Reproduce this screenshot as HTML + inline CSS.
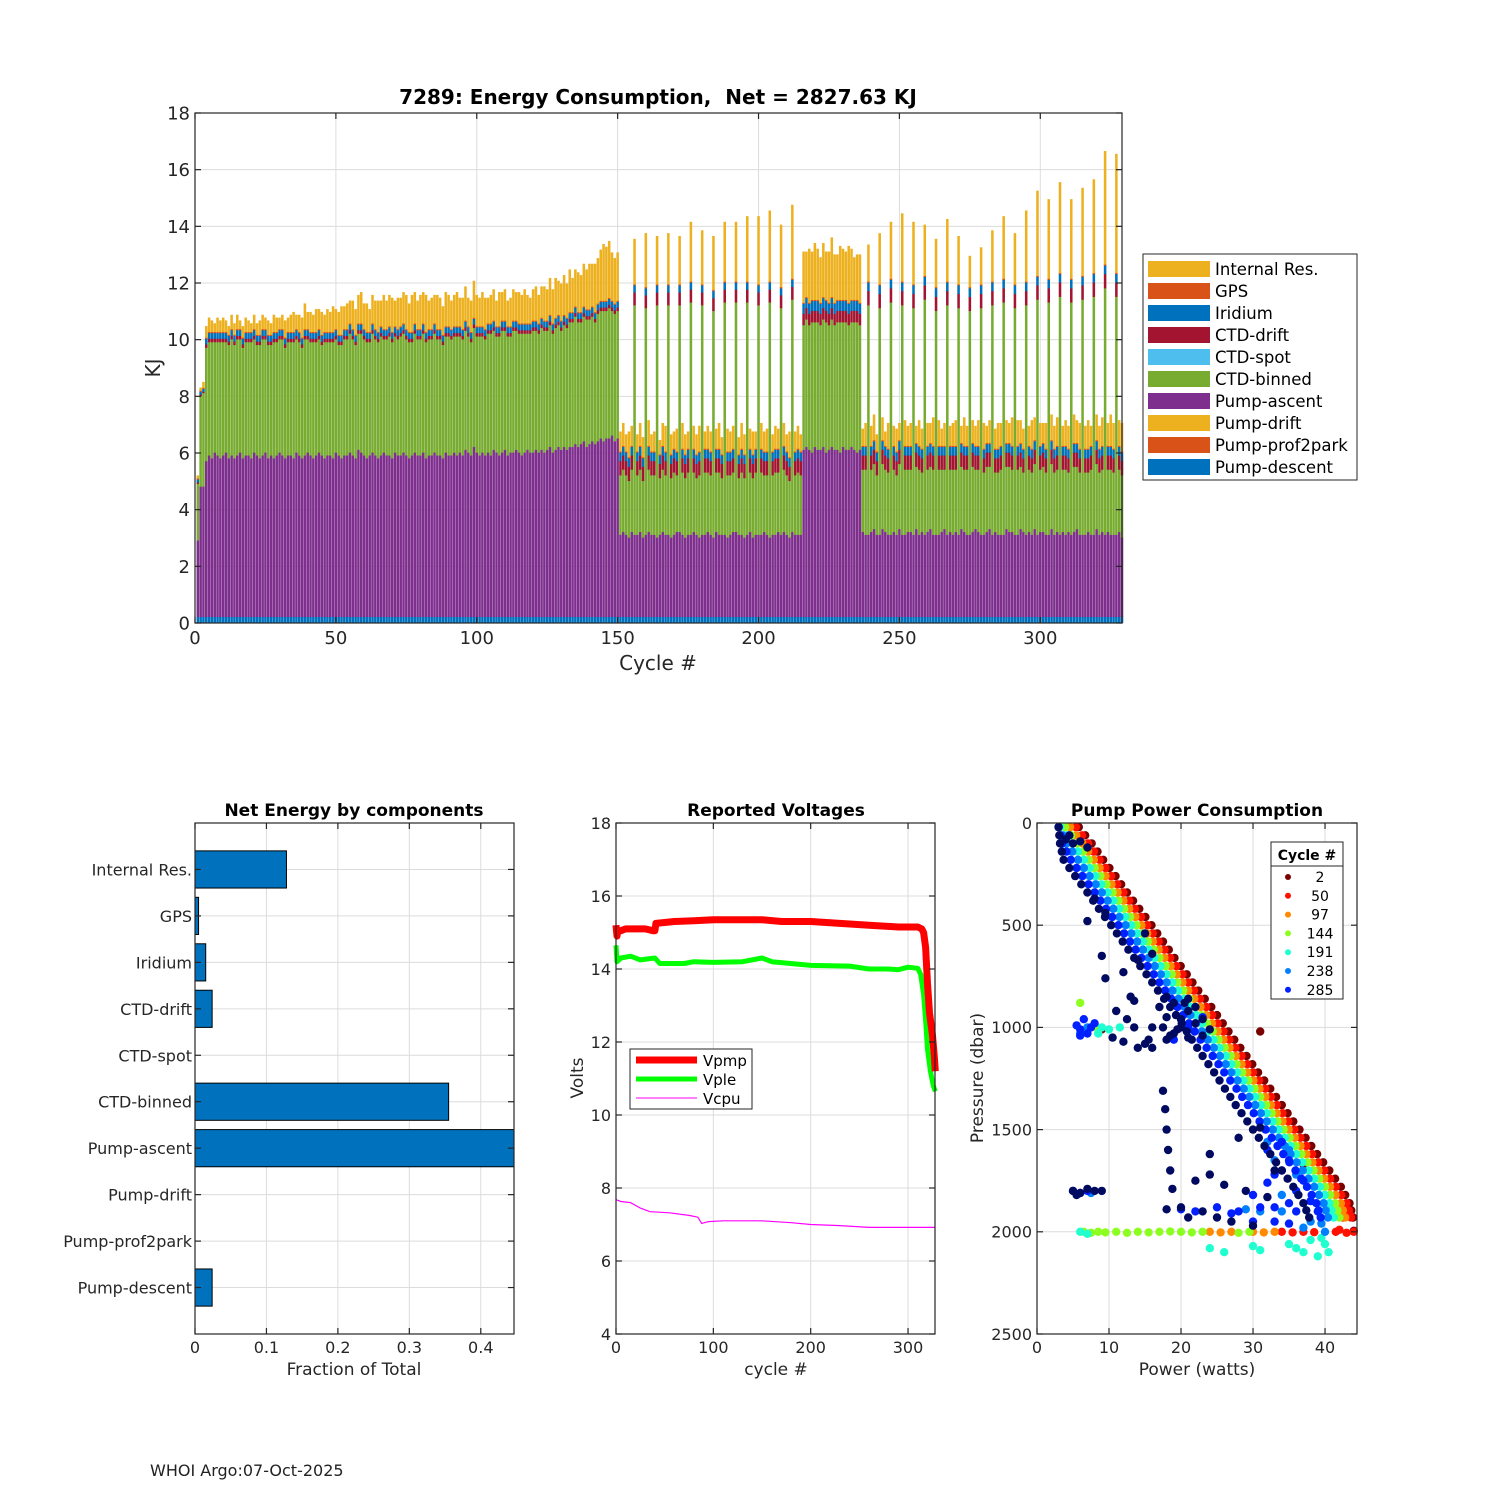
<!DOCTYPE html>
<html><head><meta charset="utf-8">
<style>
html,body{margin:0;padding:0;background:#fff;}
svg{display:block;font-family:"DejaVu Sans","Liberation Sans",sans-serif;}
</style></head>
<body>
<svg id="chart" width="1500" height="1500" viewBox="0 0 1500 1500" xmlns="http://www.w3.org/2000/svg">
<rect x="0" y="0" width="1500" height="1500" fill="#fff"/>
<text x="150" y="1476" font-size="16" fill="#222">WHOI Argo:07-Oct-2025</text>
</svg>
<script>
// ---------------- Top chart data (per cycle 1..329) ----------------
const pumpAscent = [
2.7,4.6,4.6,
5.5,5.7,5.6,5.8,5.7,5.6,5.7,5.8,5.6,5.7,
5.6,5.7,5.8,5.6,5.7,5.7,5.6,5.8,5.7,5.6,
5.7,5.8,5.6,5.7,5.6,5.7,5.8,5.7,5.6,5.7,
5.7,5.6,5.8,5.7,5.6,5.7,5.8,5.7,5.6,5.7,
5.8,5.7,5.6,5.7,5.7,5.6,5.8,5.7,5.6,5.7,
5.7,5.8,5.7,5.6,5.9,5.8,5.7,5.6,5.7,5.8,
5.7,5.6,5.7,5.8,5.7,5.7,5.6,5.8,5.7,5.7,
5.8,5.7,5.6,5.7,5.8,5.7,5.7,5.8,5.6,5.7,
5.7,5.8,5.7,5.7,5.6,5.8,5.7,5.7,5.8,5.7,
5.8,5.7,5.9,5.8,5.7,6.0,5.8,5.7,5.8,5.7,
5.8,5.7,5.9,5.8,5.7,5.8,5.9,5.7,5.8,5.8,
5.9,5.8,5.7,5.8,5.9,5.8,5.8,5.9,5.8,5.9,
5.8,5.9,6.0,5.8,5.9,6.0,5.9,6.0,5.9,6.0,
6.0,6.1,6.0,6.1,6.2,6.0,6.1,6.2,6.1,6.2,
6.3,6.2,6.3,6.3,6.4,6.2,6.3,
2.9,3.0,2.9,2.8,3.0,
2.9,2.9,3.0,2.8, 2.9,3.0,2.9,2.9, 2.8,2.9,3.0,2.9, 2.9,2.8,2.9,3.0, 3.0,2.9,2.8,2.9,
2.9,3.0,2.9,2.8, 2.9,2.9,3.0,2.9, 2.8,3.0,2.9,2.9, 2.9,2.8,2.9,3.0, 3.0,2.9,2.9,2.8,
2.9,3.0,2.8,2.9, 2.9,2.9,3.0,2.9, 2.8,2.9,2.9,3.0, 2.9,3.0,2.9,2.8, 3.0,2.9,2.9,2.9,
5.9,6.0,5.9,5.8,6.0,5.9,5.9,6.0,5.8,5.9,6.0,5.9,5.9,5.8,6.0,5.9,5.9,6.0,5.9,5.8,5.9,
3.0,2.9,
2.9,3.0,3.1,2.9, 2.9,3.1,3.0,2.9, 2.9,3.0,2.9,3.1, 2.9,2.9,3.0,3.0, 2.9,3.1,2.9,3.0, 2.9,3.0,3.1,2.9,
2.9,2.9,3.0,3.1, 2.9,3.0,2.9,3.0, 2.9,3.1,3.0,2.9, 2.9,3.0,3.1,3.0, 2.9,2.9,3.0,3.1, 2.9,3.0,2.9,2.9,
2.9,3.1,3.0,3.0, 2.9,2.9,3.1,3.0, 2.9,3.0,2.9,3.1, 2.9,3.0,3.0,2.9, 2.9,3.1,2.9,3.0, 2.9,3.0,2.9,3.0,
2.9,3.0,3.1,2.9, 2.9,2.9,3.0,2.9, 2.9,3.1,2.9,3.0, 2.9,3.0,2.9,2.9,
2.9,3.0,2.8
];
const ctdBinned = [
2.0,3.2,3.3,
4.0,4.0,4.1,3.9,4.0,4.1,4.0,3.9,4.0,4.1,
4.0,4.1,4.0,3.9,4.0,4.0,4.1,4.0,3.9,4.0,
4.1,4.0,4.0,3.9,4.1,4.0,4.0,4.1,3.9,4.0,
4.0,4.1,4.0,4.0,3.9,4.1,4.0,4.0,4.1,4.0,
4.0,3.9,4.1,4.0,4.0,4.1,4.0,3.9,4.0,4.1,
4.1,4.2,4.1,4.0,4.1,4.2,4.1,4.1,4.0,4.2,
4.1,4.1,4.2,4.0,4.1,4.2,4.1,4.1,4.1,4.2,
4.2,4.1,4.1,4.0,4.2,4.1,4.1,4.2,4.1,4.1,
4.1,4.2,4.1,4.1,4.0,4.1,4.2,4.1,4.1,4.2,
4.1,4.1,4.2,4.1,4.0,4.2,4.1,4.2,4.1,4.1,
4.2,4.3,4.2,4.1,4.2,4.3,4.2,4.2,4.1,4.3,
4.2,4.2,4.3,4.2,4.1,4.2,4.3,4.2,4.2,4.3,
4.3,4.2,4.3,4.2,4.3,4.3,4.2,4.3,4.3,4.4,
4.4,4.5,4.4,4.3,4.4,4.5,4.4,4.4,4.3,4.5,
4.5,4.6,4.5,4.6,4.4,4.5,4.5,
2.1,2.2,2.1,2.0,2.2,
8.1,2.1,2.2,2.0, 8.0,2.2,2.1,2.1, 8.2,2.0,2.2,2.1, 8.1,2.1,2.2,2.0, 8.0,2.2,2.1,2.2,
8.2,2.1,2.0,2.2, 8.1,2.2,2.1,2.1, 8.0,2.1,2.2,2.0, 8.2,2.2,2.1,2.1, 8.1,2.0,2.2,2.1,
8.2,2.1,2.1,2.2, 8.1,2.2,2.0,2.1, 8.3,2.1,2.2,2.1, 8.0,2.2,2.1,2.0, 8.2,2.1,2.2,2.1,
4.4,4.5,4.4,4.6,4.4,4.5,4.4,4.5,4.6,4.4,4.5,4.4,4.5,4.6,4.4,4.5,4.4,4.4,4.5,4.6,4.4,
2.2,2.3,
8.1,2.2,2.3,2.1, 8.0,2.3,2.2,2.2, 8.2,2.2,2.1,2.3, 8.1,2.3,2.2,2.2, 8.0,2.2,2.3,2.1, 8.3,2.2,2.2,2.3,
7.9,2.3,2.2,2.1, 8.1,2.2,2.3,2.2, 8.0,2.2,2.2,2.3, 7.9,2.3,2.1,2.2, 8.0,2.2,2.3,2.2, 8.1,2.1,2.2,2.3,
8.2,2.2,2.3,2.2, 8.0,2.3,2.2,2.1, 8.1,2.2,2.2,2.3, 8.3,2.2,2.3,2.2, 8.2,2.3,2.2,2.2, 8.4,2.2,2.3,2.1,
8.2,2.3,2.2,2.2, 8.3,2.2,2.1,2.3, 8.4,2.3,2.2,2.2, 8.7,2.2,2.3,2.2,
8.4,2.2,2.2
];
const ctdDrift = [
0.05,0.05,0.05,
0.12,0.12,0.12,0.12,0.12,0.12,0.12,0.12,0.12,0.12, 0.12,0.12,0.12,0.12,0.12,0.12,0.12,0.12,0.12,0.12,
0.12,0.12,0.12,0.12,0.12,0.12,0.12,0.12,0.12,0.12, 0.12,0.12,0.12,0.12,0.12,0.12,0.12,0.12,0.12,0.12,
0.12,0.12,0.12,0.12,0.12,0.12,0.12,0.12,0.12,0.12, 0.12,0.12,0.12,0.12,0.12,0.12,0.12,0.12,0.12,0.12,
0.12,0.12,0.12,0.12,0.12,0.12,0.12,0.12,0.12,0.12, 0.12,0.12,0.12,0.12,0.12,0.12,0.12,0.12,0.12,0.12,
0.12,0.12,0.12,0.12,0.12,0.12,0.12,0.12,0.12,0.12, 0.12,0.12,0.12,0.12,0.12,0.12,0.12,0.12,0.12,0.12,
0.12,0.12,0.12,0.12,0.12,0.12,0.12,0.12,0.12,0.12, 0.12,0.12,0.12,0.12,0.12,0.12,0.12,0.12,0.12,0.12,
0.12,0.12,0.12,0.12,0.12,0.12,0.12,0.12,0.12,0.12, 0.12,0.12,0.12,0.12,0.12,0.12,0.12,0.12,0.12,0.12,
0.12,0.12,0.12,0.12,0.12,0.12,0.12,
0.5,0.5,0.5,0.5,0.5,
0.45,0.5,0.5,0.5, 0.45,0.5,0.5,0.5, 0.45,0.5,0.5,0.5, 0.45,0.5,0.5,0.5, 0.45,0.5,0.5,0.5,
0.45,0.5,0.5,0.5, 0.45,0.5,0.5,0.5, 0.45,0.5,0.5,0.5, 0.45,0.5,0.5,0.5, 0.45,0.5,0.5,0.5,
0.45,0.5,0.5,0.5, 0.45,0.5,0.5,0.5, 0.45,0.5,0.5,0.5, 0.45,0.5,0.5,0.5, 0.45,0.5,0.5,0.5,
0.4,0.4,0.4,0.4,0.4,0.4,0.4,0.4,0.4,0.4,0.4,0.4,0.4,0.4,0.4,0.4,0.4,0.4,0.4,0.4,0.4,
0.5,0.5,
0.5,0.5,0.5,0.5, 0.5,0.5,0.5,0.5, 0.5,0.5,0.5,0.5, 0.5,0.5,0.5,0.5, 0.5,0.5,0.5,0.5, 0.5,0.5,0.5,0.5,
0.5,0.5,0.5,0.5, 0.5,0.5,0.5,0.5, 0.5,0.5,0.5,0.5, 0.5,0.5,0.5,0.5, 0.5,0.5,0.5,0.5, 0.5,0.5,0.5,0.5,
0.5,0.5,0.5,0.5, 0.5,0.5,0.5,0.5, 0.5,0.5,0.5,0.5, 0.5,0.5,0.5,0.5, 0.5,0.5,0.5,0.5, 0.5,0.5,0.5,0.5,
0.5,0.5,0.5,0.5, 0.5,0.5,0.5,0.5, 0.5,0.5,0.5,0.5, 0.5,0.5,0.5,0.5,
0.5,0.5,0.5
];
const iridium = [
0.1,0.1,0.1,
0.2,0.2,0.2,0.2,0.2,0.2,0.2,0.2,0.2,0.2, 0.2,0.2,0.2,0.2,0.2,0.2,0.2,0.2,0.2,0.2,
0.2,0.2,0.2,0.2,0.2,0.2,0.2,0.2,0.2,0.2, 0.2,0.2,0.2,0.2,0.2,0.2,0.2,0.2,0.2,0.2,
0.2,0.2,0.2,0.2,0.2,0.2,0.2,0.2,0.2,0.2, 0.2,0.2,0.2,0.2,0.2,0.2,0.2,0.2,0.2,0.2,
0.2,0.2,0.2,0.2,0.2,0.2,0.2,0.2,0.2,0.2, 0.2,0.2,0.2,0.2,0.2,0.2,0.2,0.2,0.2,0.2,
0.2,0.2,0.2,0.2,0.2,0.2,0.2,0.2,0.2,0.2, 0.2,0.2,0.2,0.2,0.2,0.2,0.2,0.2,0.2,0.2,
0.2,0.2,0.2,0.2,0.2,0.2,0.2,0.2,0.2,0.2, 0.2,0.2,0.2,0.2,0.2,0.2,0.2,0.2,0.2,0.2,
0.2,0.2,0.2,0.2,0.2,0.2,0.2,0.2,0.2,0.2, 0.2,0.2,0.2,0.2,0.2,0.2,0.2,0.2,0.2,0.2,
0.2,0.2,0.2,0.2,0.2,0.2,0.2,
0.3,0.3,0.3,0.3,0.3,
0.25,0.3,0.3,0.3, 0.25,0.3,0.3,0.3, 0.25,0.3,0.3,0.3, 0.25,0.3,0.3,0.3, 0.25,0.3,0.3,0.3,
0.25,0.3,0.3,0.3, 0.25,0.3,0.3,0.3, 0.25,0.3,0.3,0.3, 0.25,0.3,0.3,0.3, 0.25,0.3,0.3,0.3,
0.25,0.3,0.3,0.3, 0.25,0.3,0.3,0.3, 0.25,0.3,0.3,0.3, 0.25,0.3,0.3,0.3, 0.25,0.3,0.3,0.3,
0.35,0.35,0.35,0.35,0.35,0.35,0.35,0.35,0.35,0.35,0.35,0.35,0.35,0.35,0.35,0.35,0.35,0.35,0.35,0.35,0.35,
0.3,0.3,
0.3,0.3,0.3,0.3, 0.3,0.3,0.3,0.3, 0.3,0.3,0.3,0.3, 0.3,0.3,0.3,0.3, 0.3,0.3,0.3,0.3, 0.3,0.3,0.3,0.3,
0.3,0.3,0.3,0.3, 0.3,0.3,0.3,0.3, 0.3,0.3,0.3,0.3, 0.3,0.3,0.3,0.3, 0.3,0.3,0.3,0.3, 0.3,0.3,0.3,0.3,
0.3,0.3,0.3,0.3, 0.3,0.3,0.3,0.3, 0.3,0.3,0.3,0.3, 0.3,0.3,0.3,0.3, 0.3,0.3,0.3,0.3, 0.3,0.3,0.3,0.3,
0.3,0.3,0.3,0.3, 0.3,0.3,0.3,0.3, 0.3,0.3,0.3,0.3, 0.3,0.3,0.3,0.3,
0.3,0.3,0.3
];
const internalRes = [
0.1,0.1,0.2,
0.4,0.5,0.4,0.3,0.5,0.4,0.5,0.4,0.3,0.5,
0.4,0.5,0.3,0.4,0.5,0.4,0.3,0.5,0.4,0.5,
0.5,0.4,0.5,0.4,0.6,0.5,0.4,0.5,0.6,0.5,
0.6,0.7,0.5,0.6,0.7,0.9,0.6,0.7,0.6,0.8,
0.7,0.8,0.6,0.8,0.7,0.9,0.7,0.8,1.0,0.8,
0.9,0.8,1.0,0.9,1.0,1.1,0.9,1.0,0.8,1.0,
1.0,1.1,0.9,1.2,1.0,1.1,1.2,0.9,1.1,1.0,
1.1,1.2,1.0,1.3,1.1,1.0,1.2,1.1,1.3,1.0,
1.1,1.0,1.2,1.1,1.0,1.2,1.1,1.0,1.1,1.2,
1.0,1.1,1.2,1.0,1.1,1.3,1.1,1.0,1.2,1.1,
0.9,1.0,1.1,0.9,1.2,1.0,1.1,0.9,1.0,1.1,
1.0,1.1,1.0,1.2,1.0,0.9,1.1,1.2,1.0,1.1,
1.2,1.1,1.3,1.2,1.4,1.2,1.3,1.4,1.2,1.5,
1.2,1.3,1.4,1.3,1.5,1.4,1.6,1.5,1.7,1.6,
1.8,2.0,1.9,2.0,1.7,1.6,1.7,
0.7,0.8,0.6,0.9,0.7,
1.6,0.6,0.8,0.7, 1.9,0.9,0.6,0.7, 1.7,0.5,0.8,0.9, 1.8,0.7,0.6,0.8, 1.7,0.9,0.7,0.6,
2.1,0.8,0.7,0.9, 1.9,0.6,0.8,0.7, 1.9,0.7,0.9,0.6, 2.1,0.8,0.7,0.8, 2.1,0.6,0.9,0.7,
2.3,0.7,0.8,0.6, 2.4,0.9,0.7,0.8, 2.5,0.6,0.8,0.7, 2.2,0.8,0.6,0.9, 2.6,0.7,0.8,0.6,
1.8,1.6,1.9,1.7,2.0,1.8,1.6,1.9,1.7,1.8,2.1,1.7,1.6,1.9,1.8,1.7,2.0,1.8,1.5,1.6,1.7,
0.6,0.8,
1.3,0.7,0.9,0.6, 1.8,0.8,0.5,0.9, 2.0,0.7,0.8,0.6, 2.4,0.9,0.7,0.8, 2.2,0.6,0.9,0.7, 1.8,0.8,0.7,1.0,
1.7,0.9,0.6,0.8, 2.2,0.7,0.8,0.9, 1.7,0.6,1.0,0.7, 1.1,0.8,0.7,0.9, 1.3,0.9,0.6,0.8, 1.8,0.7,0.9,0.8,
2.2,0.8,0.7,1.0, 1.8,0.9,0.8,0.7, 2.5,0.7,1.0,0.8, 3.0,0.8,0.7,0.9, 2.8,0.9,0.8,1.0, 3.2,0.7,0.9,0.8,
2.8,1.0,0.8,0.9, 3.1,0.8,1.0,0.7, 3.3,0.9,0.8,1.0, 4.0,0.8,1.1,0.9,
4.2,0.9,1.0
];
const pumpDescent = [
0.22,0.22,0.22,0.22,0.22,0.22,0.22,0.22,0.22,0.22,0.22,0.22,0.22,0.22,0.22,0.22,0.22,0.22,0.22,0.22,
0.22,0.22,0.22,0.22,0.22,0.22,0.22,0.22,0.22,0.22,0.22,0.22,0.22,0.22,0.22,0.22,0.22,0.22,0.22,0.22,
0.22,0.22,0.22,0.22,0.22,0.22,0.22,0.22,0.22,0.22,0.22,0.22,0.22,0.22,0.22,0.22,0.22,0.22,0.22,0.22,
0.22,0.22,0.22,0.22,0.22,0.22,0.22,0.22,0.22,0.22,0.22,0.22,0.22,0.22,0.22,0.22,0.22,0.22,0.22,0.22,
0.22,0.22,0.22,0.22,0.22,0.22,0.22,0.22,0.22,0.22,0.22,0.22,0.22,0.22,0.22,0.22,0.22,0.22,0.22,0.22,
0.22,0.22,0.22,0.22,0.22,0.22,0.22,0.22,0.22,0.22,0.22,0.22,0.22,0.22,0.22,0.22,0.22,0.22,0.22,0.22,
0.22,0.22,0.22,0.22,0.22,0.22,0.22,0.22,0.22,0.22,0.22,0.22,0.22,0.22,0.22,0.22,0.22,0.22,0.22,0.22,
0.22,0.22,0.22,0.22,0.22,0.22,0.22,0.22,0.22,0.22,0.22,0.22,0.22,0.22,0.22,0.22,0.22,0.22,0.22,0.22,
0.22,0.22,0.22,0.22,0.22,0.22,0.22,0.22,0.22,0.22,0.22,0.22,0.22,0.22,0.22,0.22,0.22,0.22,0.22,0.22,
0.22,0.22,0.22,0.22,0.22,0.22,0.22,0.22,0.22,0.22,0.22,0.22,0.22,0.22,0.22,0.22,0.22,0.22,0.22,0.22,
0.22,0.22,0.22,0.22,0.22,0.22,0.22,0.22,0.22,0.22,0.22,0.22,0.22,0.22,0.22,0.22,0.22,0.22,0.22,0.22,
0.22,0.22,0.22,0.22,0.22,0.22,0.22,0.22,0.22,0.22,0.22,0.22,0.22,0.22,0.22,0.22,0.22,0.22,0.22,0.22,
0.22,0.22,0.22,0.22,0.22,0.22,0.22,0.22,0.22,0.22,0.22,0.22,0.22,0.22,0.22,0.22,0.22,0.22,0.22,0.22,
0.22,0.22,0.22,0.22,0.22,0.22,0.22,0.22,0.22,0.22,0.22,0.22,0.22,0.22,0.22,0.22,0.22,0.22,0.22,0.22,
0.22,0.22,0.22,0.22,0.22,0.22,0.22,0.22,0.22,0.22,0.22,0.22,0.22,0.22,0.22,0.22,0.22,0.22,0.22,0.22,
0.22,0.22,0.22,0.22,0.22,0.22,0.22,0.22,0.22,0.22,0.22,0.22,0.22,0.22,0.22,0.22,0.22,0.22,0.22,0.22,
0.22,0.22,0.22,0.22,0.22,0.22,0.22,0.22,0.22
];
const gps = [0.04];
const topYTicks = [0,2,4,6,8,10,12,14,16,18];
const topXTicks = [0,50,100,150,200,250,300];
const legendLabels = ['Internal Res.','GPS','Iridium','CTD-drift','CTD-spot','CTD-binned','Pump-ascent','Pump-drift','Pump-prof2park','Pump-descent'];
const legendColors = ['#EDB120','#D95319','#0072BD','#A2142F','#4DBEEE','#77AC30','#7E2F8E','#EDB120','#D95319','#0072BD'];

// ---------------- Net energy data ----------------
const componentNames = ['Internal Res.','GPS','Iridium','CTD-drift','CTD-spot','CTD-binned','Pump-ascent','Pump-drift','Pump-prof2park','Pump-descent'];
const componentFractions = [0.128,0.005,0.015,0.024,0,0.355,0.452,0,0,0.024];
const netXTicks = [0,0.1,0.2,0.3,0.4];

// ---------------- Voltage data ----------------
const vpmpCycles = [0,1,2,5,10,20,30,38,40,41,60,80,100,130,150,170,200,230,260,290,310,314,316,318,320,322,325,327,328];
const vpmpVolts  = [15.2,14.9,15.05,15.05,15.1,15.1,15.1,15.05,15.05,15.25,15.3,15.32,15.35,15.35,15.35,15.3,15.3,15.25,15.2,15.15,15.15,15.1,15.0,14.6,13.6,12.8,12.2,11.6,11.2];
const vpleCycles = [0,1,5,15,25,40,45,50,70,80,100,130,150,160,200,240,260,280,290,300,310,313,316,318,320,323,326,328];
const vpleVolts  = [14.65,14.2,14.3,14.35,14.25,14.3,14.15,14.15,14.15,14.2,14.18,14.2,14.3,14.2,14.1,14.08,14.0,14.0,13.98,14.05,14.02,13.85,13.3,12.6,11.8,11.2,10.8,10.65];
const vcpuCycles = [0,5,15,25,35,55,75,84,88,95,110,150,180,200,230,260,328];
const vcpuVolts  = [7.68,7.63,7.6,7.45,7.35,7.32,7.25,7.2,7.03,7.08,7.1,7.1,7.05,7.0,6.97,6.92,6.92];
const voltYTicks = [4,6,8,10,12,14,16,18];
const voltXTicks = [0,100,200,300];

// ---------------- Pump power scatter data ----------------
const bandPressure = [20,100,180,260,340,420,500,580,660,740,820,900,980,1060,1140,1220,1300,1380,1460,1540,1620,1700,1780,1860,1930];
const powerCycle2   = [5.8,7.6,9.2,10.9,12.5,14.2,15.9,17.5,19.1,20.8,22.4,24.2,25.8,27.4,29.1,30.7,32.4,34.0,35.6,37.3,38.9,40.6,42.2,43.4,43.9];
const powerCycle50  = [5.4,7.1,8.7,10.3,12.0,13.6,15.3,16.9,18.5,20.2,21.8,23.5,25.1,26.7,28.4,30.0,31.7,33.3,34.9,36.6,38.2,39.9,41.5,43.0,43.6];
const powerCycle97  = [4.6,6.3,7.9,9.5,11.2,12.8,14.5,16.1,17.7,19.4,21.0,22.7,24.3,25.9,27.6,29.2,30.9,32.5,34.1,35.8,37.4,39.1,40.7,42.2,42.8];
const powerCycle144 = [3.9,5.6,7.2,8.8,10.5,12.1,13.8,15.4,17.0,18.7,20.3,22.0,23.6,25.2,26.9,28.5,30.2,31.8,33.4,35.1,36.7,38.4,40.0,41.4,42.0];
const powerCycle191 = [3.2,4.9,6.5,8.1,9.8,11.4,13.1,14.7,16.3,18.0,19.6,21.3,22.9,24.5,26.2,27.8,29.5,31.1,32.7,34.4,36.0,37.7,39.3,40.6,41.2];
const powerCycle238 = [3.0,4.1,5.7,7.3,9.0,10.6,12.3,13.9,15.5,17.2,18.8,20.5,22.1,23.7,25.4,27.0,28.7,30.3,31.9,33.6,35.2,36.9,38.5,39.8,40.4];
const powerCycle285 = [3.0,3.5,4.7,6.3,8.0,9.6,11.3,12.9,14.5,16.2,17.8,19.5,21.1,22.7,24.4,26.0,27.7,29.3,30.9,32.6,34.2,35.9,37.5,38.8,39.4];
const powerCycle329 = [3.0,3.2,3.7,5.3,7.0,8.6,10.3,11.9,13.5,15.2,16.8,18.5,20.1,21.5,23.0,24.6,26.1,27.6,29.2,30.8,32.4,34.0,35.6,37.0,37.8];
const extraLime = [[6.5,2000],[7.5,2005],[8.5,2000],[9.5,2003],[11,2000],[12.5,2005],[14,2000],[15.5,2003],[17,2000],[18.5,1998],[20,2000],[21.5,2003],[23,2000],[6,880],[8.5,1010],[28,2005],[29.5,2000]];
const extraOrange = [[24,2000],[25.5,2003],[27,2000],[30,2000],[31.5,2003],[33,2000]];
const extraRed = [[34,2000],[35.5,2003],[37,2000],[38.5,2002],[41.5,2000],[43,2005],[44,2000],[42,1990],[43.5,1920],[42.5,1930]];
const extraDarkRed = [[43.8,1930],[44,1995],[31,1020],[37,1670],[9,1010]];
const extraCyan = [[24,2080],[26,2100],[30,2070],[31,2090],[35,2060],[37,2100],[39,2120],[40,2060],[36,2080],[40.5,2100],[9,1000],[10,1010],[11.5,1000],[8.5,1030],[6,2000],[7,2010],[38,2040],[39.5,2030]];
const extraAzure = [[38,1950],[40,2000],[37,1980],[34,1900],[39.5,1960],[33,1650],[35,1600],[36,1720],[32,1560],[7,1000],[6,1030],[7.5,1810],[29,1890],[31,1900],[34,1820]];
const extraBlue = [[5.5,990],[6,1010],[6.5,960],[7,1030],[7.5,1000],[8,980],[6,1040],[34,1560],[35,1650],[33,1720],[36,1800],[38,1850],[31,1880],[28,1900],[33,1950],[36,1900],[35,1960],[39,1900],[32,1600],[30,1820],[32,1760],[34,1700],[37,1750],[35,1860],[20,1890],[22,1900],[25,1880],[27,1910],[30,1950],[33,1880],[5,1800],[6,1810],[7,1800],[19,1060],[21,1000],[23,950]];
const extraNavy = [[17,900],[18,950],[19,880],[20,1000],[21,920],[22,980],[19,1030],[23,1040],[18,1060],[20,960],[21,1050],[22,900],[24,1010],[17.5,1000],[19.5,1010],[20.5,880],[23,960],[18,850],[21,860],
[7,480],[9.5,440],[9,650],[9.5,760],[8,370],[12,730],[13,850],[13.5,870],[15,540],[14,670],[16,640],[11,920],[12.5,960],[15.5,1060],[16,1000],[18.5,1040],[16,1100],[13.5,1000],[12,1070],[10.5,1050],[15,1080],[14,1100],
[17.5,1310],[17.8,1400],[18,1500],[18.2,1600],[18.5,1700],[18.8,1790],[22,1750],[24,1620],[28,1540],[31,1490],[26,1770],[29,1800],[32,1830],[33,1700],[20,1880],[23,1900],[25,1930],[27,1950],[30,1970],[24,1720],[21,1930],[18,1890],
[5,1800],[6,1810],[7,1790],[8,1800],[9,1800],[5.5,1820],[4,80],[5,100],[6,90],[4.5,60],[7,120]];
const scatterXTicks = [0,10,20,30,40];
const scatterYTicks = [0,500,1000,1500,2000,2500];
const cycleLabels = ['2','50','97','144','191','238','285'];
const cycleColors = ['#7a0000','#ff1000','#ff8a00','#8cff20','#20ffd0','#0080ff','#0020ff'];

// ---------------- helpers ----------------
const NS = 'http://www.w3.org/2000/svg';
const svg = document.getElementById('chart');
function mk(tag, a, parent) {
  const e = document.createElementNS(NS, tag);
  for (const k in a) e.setAttribute(k, a[k]);
  (parent || svg).appendChild(e);
  return e;
}
function txt(x, y, s, a, parent) {
  const e = mk('text', Object.assign({x: x, y: y}, a), parent);
  e.textContent = s;
  return e;
}
function linScale(d0, d1, r0, r1) { return v => r0 + (v - d0) * (r1 - r0) / (d1 - d0); }

function axesFrame(g, x0, y0, x1, y1, xt, yt, sx, sy) {
  const gridG = mk('g', {}, g);
  
  
  xt.forEach(v => { mk('line', {x1: sx(v), x2: sx(v), y1: y0, y2: y1, stroke: '#dcdcdc', 'stroke-width': 1}, gridG); });
  yt.forEach(v => { mk('line', {x1: x0, x2: x1, y1: sy(v), y2: sy(v), stroke: '#dcdcdc', 'stroke-width': 1}, gridG); });
  return gridG;
}
function axesBox(g, x0, y0, x1, y1, xt, yt, sx, sy, fs) {
  const box = mk('rect', {x: x0, y: y0, width: x1 - x0, height: y1 - y0, fill: 'none', stroke: '#262626', 'stroke-width': 1.2}, g);
  
  
  const xg = mk('g', {}, g);
  
  
  xt.forEach(v => {
    const X = sx(v);
    mk('line', {x1: X, x2: X, y1: y1, y2: y1 - 6, stroke: '#262626', 'stroke-width': 1.2}, xg);
    mk('line', {x1: X, x2: X, y1: y0, y2: y0 + 6, stroke: '#262626', 'stroke-width': 1.2}, xg);
    const t = txt(X, y1 + fs + 3, String(v), {'font-size': fs, 'text-anchor': 'middle', fill: '#262626'}, xg);
    
    
  });
  const yg = mk('g', {}, g);
  
  
  yt.forEach(v => {
    const Y = sy(v);
    mk('line', {x1: x0, x2: x0 + 6, y1: Y, y2: Y, stroke: '#262626', 'stroke-width': 1.2}, yg);
    mk('line', {x1: x1, x2: x1 - 6, y1: Y, y2: Y, stroke: '#262626', 'stroke-width': 1.2}, yg);
    const t = txt(x0 - 5, Y + fs * 0.36, String(v), {'font-size': fs, 'text-anchor': 'end', fill: '#262626'}, yg);
    
    
  });
}

// ---------------- Top chart ----------------
(function() {
  const g = mk('g', {});
  
  
  const X0 = 195, X1 = 1122, Y0 = 113, Y1 = 623;
  const sx = linScale(0, 329, X0, X1), sy = linScale(0, 18, Y1, Y0);
  axesFrame(g, X0, Y0, X1, Y1, topXTicks, topYTicks, sx, sy);
  const bars = mk('g', {}, g);
  
  
  const layers = [
    [pumpDescent, '#0072BD', 'pump-descent'],
    [pumpAscent, '#7E2F8E', 'pump-ascent'],
    [ctdBinned, '#77AC30', 'ctd-binned'],
    [ctdDrift, '#A2142F', 'ctd-drift'],
    [iridium, '#0072BD', 'iridium'],
    [gps, '#D95319', 'gps'],
    [internalRes, '#EDB120', 'internal-res']
  ];
  const w = (sx(1) - sx(0)) * 0.9;
  for (let i = 0; i < pumpAscent.length; i++) {
    const c = i + 1;
    let base = 0;
    const cg = mk('g', {}, bars);
    
    
    layers.forEach(L => {
      const arr = L[0];
      const v = arr.length === 1 ? arr[0] : (arr[i] || 0);
      if (v <= 0) return;
      const yTop = sy(base + v), yBot = sy(base);
      const r = mk('rect', {x: (sx(c) - w / 2).toFixed(2), y: yTop.toFixed(2), width: w.toFixed(2), height: (yBot - yTop + 0.3).toFixed(2), fill: L[1]}, cg);
      
      
      base += v;
    });
  }
  axesBox(g, X0, Y0, X1, Y1, topXTicks, topYTicks, sx, sy, 18);
  const t = txt(658, 104, '7289: Energy Consumption,\u00a0 Net = 2827.63 KJ', {'font-size': 20, 'font-weight': 'bold', 'text-anchor': 'middle', fill: '#000'}, g);
  
  
  const xl = txt(658, 670, 'Cycle #', {'font-size': 20, 'text-anchor': 'middle', fill: '#262626'}, g);
  
  
  const yl = txt(0, 0, 'KJ', {'font-size': 20, 'text-anchor': 'middle', fill: '#262626', transform: 'translate(160,368) rotate(-90)'}, g);
  
  
  const lg = mk('g', {}, g);
  
  
  const lb = mk('rect', {x: 1143, y: 254, width: 214, height: 226, fill: '#fff', stroke: '#262626', 'stroke-width': 1}, lg);
  
  
  legendLabels.forEach((lab, k) => {
    const y = 269 + k * 22;
    const e = mk('g', {}, lg);
    
    
    mk('rect', {x: 1148, y: y - 8, width: 62, height: 16, fill: legendColors[k]}, e);
    txt(1215, y + 6, lab, {'font-size': 16.5, fill: '#000'}, e);
  });
})();

// ---------------- Net energy ----------------
(function() {
  const g = mk('g', {});
  
  
  const X0 = 195, X1 = 514, Y0 = 823, Y1 = 1334;
  const sx = linScale(0, 0.4465, X0, X1), sy = linScale(0, 11, Y0, Y1);
  const idx = componentNames.map((n, k) => k + 1);
  axesFrame(g, X0, Y0, X1, Y1, netXTicks, idx, sx, sy);
  const bh = (sy(1) - sy(0)) * 0.8;
  componentFractions.forEach((v, k) => {
    if (v <= 0) return;
    const r = mk('rect', {x: sx(0), y: sy(k + 1) - bh / 2, width: Math.min(sx(v), X1) - sx(0), height: bh, fill: '#0072BD', stroke: '#000', 'stroke-width': 1}, g);
    
    
  });
  axesBox(g, X0, Y0, X1, Y1, netXTicks, [], sx, sy, 16);
  componentNames.forEach((n, k) => {
    const Y = sy(k + 1);
    mk('line', {x1: X1, x2: X1 - 6, y1: Y, y2: Y, stroke: '#262626', 'stroke-width': 1.2}, g);
    mk('line', {x1: X0, x2: X0 + 6, y1: Y, y2: Y, stroke: '#262626', 'stroke-width': 1.2}, g);
    const t = txt(X0 - 3, Y + 6, n, {'font-size': 16, 'text-anchor': 'end', fill: '#262626'}, g);
    
    
  });
  const t = txt(354, 816, 'Net Energy by components', {'font-size': 17, 'font-weight': 'bold', 'text-anchor': 'middle', fill: '#000'}, g);
  
  
  const xl = txt(354, 1375, 'Fraction of Total', {'font-size': 17, 'text-anchor': 'middle', fill: '#262626'}, g);
  
  
})();

// ---------------- Voltages ----------------
(function() {
  const g = mk('g', {});
  
  
  const X0 = 616, X1 = 935, Y0 = 823, Y1 = 1334;
  const sx = linScale(0, 327.7, X0, X1), sy = linScale(4, 18, Y1, Y0);
  axesFrame(g, X0, Y0, X1, Y1, voltXTicks, voltYTicks, sx, sy);
  function line(xs, ys, col, w, name) {
    const d = xs.map((c, k) => (k ? 'L' : 'M') + sx(c).toFixed(1) + ',' + sy(ys[k]).toFixed(1)).join('');
    const p = mk('path', {d: d, fill: 'none', stroke: col, 'stroke-width': w, 'stroke-linejoin': 'round'}, g);
    
    
  }
  line(vcpuCycles, vcpuVolts, '#ff00ff', 1.2, 'vcpu-line');
  line(vpleCycles, vpleVolts, '#00ff00', 5, 'vple-line');
  line(vpmpCycles, vpmpVolts, '#ff0000', 7, 'vpmp-line');
  axesBox(g, X0, Y0, X1, Y1, voltXTicks, voltYTicks, sx, sy, 16);
  const t = txt(776, 816, 'Reported Voltages', {'font-size': 17, 'font-weight': 'bold', 'text-anchor': 'middle', fill: '#000'}, g);
  
  
  const xl = txt(776, 1375, 'cycle #', {'font-size': 17, 'text-anchor': 'middle', fill: '#262626'}, g);
  
  
  const yl = txt(0, 0, 'Volts', {'font-size': 17, 'text-anchor': 'middle', fill: '#262626', transform: 'translate(583,1078) rotate(-90)'}, g);
  
  
  const lg = mk('g', {}, g);
  
  
  mk('rect', {x: 630, y: 1049, width: 122, height: 60, fill: '#fff', stroke: '#262626', 'stroke-width': 1}, lg);
  [['Vpmp', '#ff0000', 7], ['Vple', '#00ff00', 5], ['Vcpu', '#ff00ff', 1]].forEach((e, k) => {
    const y = 1060 + k * 19;
    const eg = mk('g', {}, lg);
    
    
    mk('line', {x1: 636, x2: 697, y1: y, y2: y, stroke: e[1], 'stroke-width': e[2]}, eg);
    txt(703, y + 6, e[0], {'font-size': 15, fill: '#000'}, eg);
  });
})();

// ---------------- Pump power scatter ----------------
(function() {
  const g = mk('g', {});
  
  
  const X0 = 1037, X1 = 1357, Y0 = 823, Y1 = 1334;
  const sx = linScale(0, 44.44, X0, X1), sy = linScale(0, 2500, Y0, Y1);
  axesFrame(g, X0, Y0, X1, Y1, scatterXTicks, scatterYTicks, sx, sy);
  const pts = mk('g', {}, g);
  
  
  function dot(P, p, col) {
    const c = mk('circle', {cx: sx(P).toFixed(1), cy: sy(p).toFixed(1), r: 4.2, fill: col}, pts);
    
    
  }
  const bands = [[powerCycle2, '#7a0000'], [powerCycle50, '#ff1000'], [powerCycle97, '#ff8a00'], [powerCycle144, '#8cff20'], [powerCycle191, '#20ffd0'], [powerCycle238, '#0080ff'], [powerCycle285, '#0020ff'], [powerCycle329, '#000a60']];
  const extras = [[extraDarkRed, '#7a0000'], [extraRed, '#ff1000'], [extraOrange, '#ff8a00'], [extraLime, '#8cff20'], [extraCyan, '#20ffd0'], [extraAzure, '#0080ff'], [extraBlue, '#0020ff'], [extraNavy, '#000a60']];
  bands.forEach((b, k) => {
    b[0].forEach((P, j) => {
      dot(P, bandPressure[j], b[1]);
      if (j + 1 < b[0].length) dot((P + b[0][j + 1]) / 2, (bandPressure[j] + bandPressure[j + 1]) / 2, b[1]);
    });
    extras[k][0].forEach(q => dot(q[0], q[1], extras[k][1]));
  });
  axesBox(g, X0, Y0, X1, Y1, scatterXTicks, scatterYTicks, sx, sy, 16);
  const t = txt(1197, 816, 'Pump Power Consumption', {'font-size': 17, 'font-weight': 'bold', 'text-anchor': 'middle', fill: '#000'}, g);
  
  
  const xl = txt(1197, 1375, 'Power (watts)', {'font-size': 17, 'text-anchor': 'middle', fill: '#262626'}, g);
  
  
  const yl = txt(0, 0, 'Pressure (dbar)', {'font-size': 17, 'text-anchor': 'middle', fill: '#262626', transform: 'translate(983,1078) rotate(-90)'}, g);
  
  
  const lg = mk('g', {}, g);
  
  
  mk('rect', {x: 1271, y: 842, width: 72, height: 157, fill: '#fff', stroke: '#262626', 'stroke-width': 1}, lg);
  mk('line', {x1: 1271, x2: 1343, y1: 866, y2: 866, stroke: '#262626', 'stroke-width': 1}, lg);
  txt(1307, 860, 'Cycle #', {'font-size': 14, 'font-weight': 'bold', 'text-anchor': 'middle', fill: '#000'}, lg);
  cycleLabels.forEach((lab, k) => {
    const y = 877 + k * 18.8;
    const e = mk('g', {}, lg);
    
    
    mk('circle', {cx: 1288, cy: y, r: 3, fill: cycleColors[k]}, e);
    txt(1320, y + 5, lab, {'font-size': 14, 'text-anchor': 'middle', fill: '#000'}, e);
  });
})();
</script>
</body></html>
